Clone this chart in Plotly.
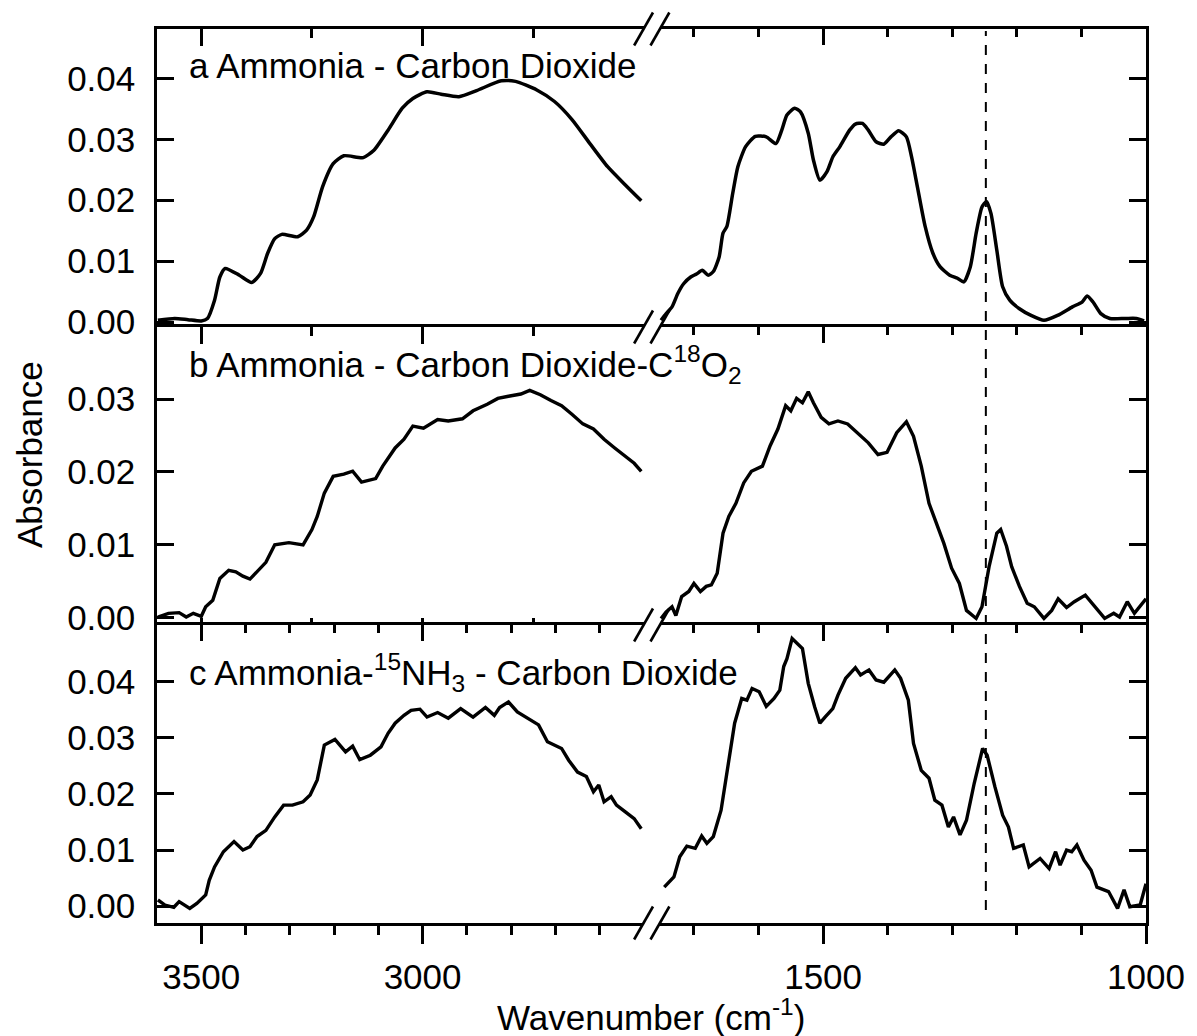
import plotly.graph_objects as go

# ---------------- data ----------------
a_left_wn = [3598, 3560, 3530, 3500, 3486, 3470, 3458, 3446, 3414, 3386, 3366, 3350, 3334, 3318, 3282,
             3262, 3246, 3226, 3202, 3178, 3134, 3110, 3078, 3046, 3022, 2990, 2958, 2918, 2878, 2822,
             2790, 2742, 2702, 2662, 2622, 2582, 2542, 2506]
a_left_abs = [0.0003, 0.0006, 0.0004, 0.0002, 0.0006, 0.0036, 0.0074, 0.0088, 0.0077, 0.0065, 0.0080,
              0.0113, 0.0137, 0.0144, 0.0140, 0.0151, 0.0173, 0.0222, 0.0260, 0.0273, 0.0270, 0.0282,
              0.0315, 0.0351, 0.0367, 0.0378, 0.0374, 0.0370, 0.0380, 0.0396, 0.0395, 0.0381, 0.0362,
              0.0332, 0.0293, 0.0255, 0.0225, 0.0199]

a_right_wn = [1751, 1743, 1734, 1725, 1716, 1705, 1696, 1687, 1678, 1670, 1661, 1655, 1649, 1640, 1632,
              1620, 1605, 1588, 1573, 1564, 1556, 1544, 1535, 1523, 1515, 1505, 1494, 1485, 1474, 1459,
              1450, 1439, 1430, 1418, 1406, 1395, 1383, 1371, 1363, 1354, 1342, 1330, 1319, 1304, 1292,
              1282, 1272, 1263, 1254, 1247, 1240, 1231, 1222, 1211, 1196, 1178, 1158, 1137, 1114, 1099,
              1091, 1082, 1070, 1056, 1032, 1015, 1003]
a_right_abs = [0.0003, 0.0014, 0.0025, 0.0047, 0.0063, 0.0074, 0.0079, 0.0085, 0.0077, 0.0083, 0.0107,
               0.0146, 0.0157, 0.0211, 0.0255, 0.0288, 0.0305, 0.0304, 0.0293, 0.0315, 0.0340, 0.0351,
               0.0345, 0.0310, 0.0266, 0.0233, 0.0247, 0.0271, 0.0288, 0.0315, 0.0325, 0.0326, 0.0315,
               0.0296, 0.0292, 0.0304, 0.0314, 0.0304, 0.0271, 0.0222, 0.0157, 0.0113, 0.0091, 0.0077,
               0.0072, 0.0066, 0.0091, 0.0146, 0.0189, 0.0198, 0.0178, 0.0118, 0.0058, 0.0036, 0.0022,
               0.0011, 0.0003, 0.0011, 0.0025, 0.0033, 0.0043, 0.0033, 0.0014, 0.0006, 0.0006, 0.0006,
               0.0002]

b_left_wn = [3598, 3574, 3550, 3534, 3518, 3500, 3490, 3474, 3458, 3438, 3422, 3406, 3390, 3374, 3354,
             3334, 3302, 3270, 3250, 3238, 3222, 3202, 3178, 3158, 3138, 3106, 3090, 3062, 3042, 3022,
             2998, 2966, 2942, 2910, 2886, 2854, 2830, 2806, 2778, 2758, 2734, 2710, 2686, 2662, 2638,
             2614, 2590, 2566, 2542, 2522, 2506]
b_left_abs = [0.0001, 0.0006, 0.0007, 0.0001, 0.0006, 0.0002, 0.0015, 0.0024, 0.0054, 0.0065, 0.0063,
              0.0057, 0.0053, 0.0063, 0.0076, 0.0100, 0.0103, 0.0100, 0.0121, 0.0139, 0.0171, 0.0194,
              0.0197, 0.0201, 0.0186, 0.0191, 0.0208, 0.0233, 0.0245, 0.0263, 0.0260, 0.0272, 0.0270,
              0.0273, 0.0284, 0.0293, 0.0301, 0.0304, 0.0307, 0.0312, 0.0306, 0.0298, 0.0291, 0.0279,
              0.0266, 0.0259, 0.0245, 0.0233, 0.0222, 0.0212, 0.0201]

b_right_wn = [1751, 1743, 1734, 1728, 1719, 1708, 1700, 1690, 1681, 1673, 1664, 1655, 1646, 1635, 1623,
              1611, 1594, 1582, 1570, 1558, 1550, 1541, 1532, 1523, 1515, 1503, 1491, 1477, 1462, 1447,
              1430, 1415, 1401, 1386, 1371, 1360, 1348, 1336, 1325, 1313, 1301, 1289, 1278, 1263, 1254,
              1243, 1231, 1225, 1216, 1208, 1196, 1184, 1173, 1158, 1146, 1136, 1123, 1111, 1094, 1079,
              1064, 1050, 1041, 1029, 1018, 1000]
b_right_abs = [-0.0001, 0.0008, 0.0015, 0.0003, 0.0029, 0.0036, 0.0047, 0.0036, 0.0043, 0.0045, 0.0061,
               0.0116, 0.0139, 0.0157, 0.0185, 0.0201, 0.0208, 0.0236, 0.0259, 0.0291, 0.0284, 0.0301,
               0.0295, 0.0310, 0.0295, 0.0275, 0.0266, 0.0270, 0.0266, 0.0254, 0.0240, 0.0224, 0.0227,
               0.0254, 0.0269, 0.0249, 0.0208, 0.0157, 0.0130, 0.0102, 0.0068, 0.0047, 0.0010, -0.0001,
               0.0015, 0.0070, 0.0116, 0.0121, 0.0098, 0.0070, 0.0043, 0.0020, 0.0015, -0.0001, 0.0010,
               0.0026, 0.0014, 0.0022, 0.0031, 0.0015, -0.0001, 0.0006, 0.0001, 0.0022, 0.0006, 0.0026]

c_left_wn = [3598, 3582, 3562, 3550, 3526, 3510, 3490, 3482, 3470, 3450, 3426, 3406, 3390, 3374, 3354,
             3334, 3314, 3294, 3270, 3254, 3238, 3222, 3198, 3174, 3158, 3142, 3118, 3094, 3078, 3062,
             3042, 3026, 3006, 2990, 2966, 2942, 2914, 2886, 2858, 2838, 2826, 2806, 2786, 2758, 2738,
             2718, 2686, 2670, 2650, 2630, 2614, 2602, 2590, 2574, 2562, 2542, 2522, 2506]
c_left_abs = [0.0011, 0.0002, -0.0002, 0.0008, -0.0004, 0.0005, 0.0020, 0.0046, 0.0070, 0.0097, 0.0115,
              0.0100, 0.0106, 0.0124, 0.0135, 0.0159, 0.0180, 0.0180, 0.0186, 0.0198, 0.0225, 0.0287,
              0.0297, 0.0275, 0.0285, 0.0261, 0.0269, 0.0284, 0.0308, 0.0326, 0.0340, 0.0349, 0.0351,
              0.0337, 0.0345, 0.0335, 0.0352, 0.0337, 0.0354, 0.0340, 0.0354, 0.0364, 0.0346, 0.0332,
              0.0323, 0.0293, 0.0281, 0.0260, 0.0239, 0.0231, 0.0204, 0.0216, 0.0186, 0.0195, 0.0180,
              0.0168, 0.0156, 0.0138]

c_right_wn = [1746, 1731, 1722, 1711, 1698, 1688, 1680, 1670, 1658, 1646, 1637, 1626, 1618, 1610, 1599,
              1588, 1576, 1567, 1561, 1556, 1548, 1532, 1523, 1513, 1505, 1497, 1485, 1477, 1465, 1450,
              1442, 1429, 1418, 1406, 1389, 1380, 1368, 1360, 1348, 1336, 1327, 1316, 1306, 1298, 1288,
              1278, 1266, 1253, 1246, 1234, 1222, 1213, 1205, 1190, 1181, 1164, 1150, 1140, 1133, 1123,
              1115, 1107, 1096, 1085, 1076, 1058, 1044, 1034, 1025, 1009, 1000]
c_right_abs = [0.0034, 0.0052, 0.0088, 0.0107, 0.0103, 0.0125, 0.0112, 0.0124, 0.0171, 0.0260, 0.0326,
               0.0370, 0.0367, 0.0388, 0.0382, 0.0356, 0.0370, 0.0385, 0.0427, 0.0441, 0.0477, 0.0459,
               0.0397, 0.0355, 0.0326, 0.0337, 0.0352, 0.0376, 0.0406, 0.0425, 0.0412, 0.0421, 0.0403,
               0.0399, 0.0421, 0.0406, 0.0367, 0.0290, 0.0242, 0.0228, 0.0189, 0.0180, 0.0141, 0.0159,
               0.0127, 0.0153, 0.0219, 0.0281, 0.0269, 0.0213, 0.0162, 0.0141, 0.0103, 0.0109, 0.0070,
               0.0085, 0.0067, 0.0097, 0.0073, 0.0100, 0.0097, 0.0109, 0.0082, 0.0064, 0.0034, 0.0026,
               -0.0004, 0.0029, -0.0001, 0.0002, 0.0040]

panel_labels = ["a Ammonia - Carbon Dioxide",
                "b Ammonia - Carbon Dioxide-C<sup>18</sup>O<sub>2</sub>",
                "c Ammonia-<sup>15</sup>NH<sub>3</sub> - Carbon Dioxide"]
y_ranges = [[-0.0008, 0.0481], [-0.0010, 0.0399], [-0.0030, 0.0501]]
y_ticks = [[0.00, 0.01, 0.02, 0.03, 0.04], [0.00, 0.01, 0.02, 0.03], [0.00, 0.01, 0.02, 0.03, 0.04]]
x_left_range = [3600, 2484]
x_right_range = [1766.5, 1000]
left_major = [3500, 3000]
left_minor_250 = [3250, 2750]
left_minor_100 = [3400, 3300, 3200, 3100, 2900, 2800, 2700, 2600]
right_major = [1500, 1000]
right_minor_100 = [1700, 1600, 1400, 1300, 1200, 1100]
marker_line_wn = 1248

# ---------------- layout geometry ----------------
W, H = 1197, 1036
L, R, T, B = 157, 43, 29, 113
PW, PH = W - L - R, H - T - B
BREAK_PX = 655


def px_x(px):
    return (px - L) / PW


def px_y(py):
    return (H - B - py) / PH


xb = px_x(BREAK_PX)
FONT = "Liberation Sans, Arial, sans-serif"
BLACK = "#000000"
LW = 2.5
FS = 35

fig = go.Figure()

series = [(a_left_wn, a_left_abs, a_right_wn, a_right_abs, "spline"),
          (b_left_wn, b_left_abs, b_right_wn, b_right_abs, "linear"),
          (c_left_wn, c_left_abs, c_right_wn, c_right_abs, "linear")]

doms = [[2 / 3, 1.0], [1 / 3, 2 / 3], [0.0, 1 / 3]]

layout = dict(width=W, height=H, margin=dict(l=L, r=R, t=T, b=B),
              paper_bgcolor="white", plot_bgcolor="white", showlegend=False,
              font=dict(family=FONT, size=FS, color=BLACK))

for i, (lw_, la_, rw_, ra_, shp) in enumerate(series):
    xl = "x" if i == 0 else f"x{2 * i + 1}"
    xr = f"x{2 * i + 2}"
    yl = "y" if i == 0 else f"y{2 * i + 1}"
    yr = f"y{2 * i + 2}"
    kxl = "xaxis" if i == 0 else f"xaxis{2 * i + 1}"
    kxr = f"xaxis{2 * i + 2}"
    kyl = "yaxis" if i == 0 else f"yaxis{2 * i + 1}"
    kyr = f"yaxis{2 * i + 2}"
    line = dict(color=BLACK, width=3.5, shape=shp, smoothing=0.6) if shp == "spline" else dict(color=BLACK, width=3.4)
    fig.add_trace(go.Scatter(x=lw_, y=la_, mode="lines", line=line, xaxis=xl, yaxis=yl, hoverinfo="skip"))
    fig.add_trace(go.Scatter(x=rw_, y=ra_, mode="lines", line=line, xaxis=xr, yaxis=yr, hoverinfo="skip"))

    common_y = dict(domain=doms[i], range=y_ranges[i], tickvals=y_ticks[i], ticks="inside", ticklen=17,
                    tickwidth=LW, tickcolor=BLACK, showline=True, linecolor=BLACK, linewidth=LW,
                    showgrid=False, zeroline=False, fixedrange=True)
    layout[kyl] = dict(common_y, anchor=xl, side="left", tickmode="array",
                       ticktext=[f"{v:.2f}" for v in y_ticks[i]],
                       tickfont=dict(size=FS, family=FONT, color=BLACK), ticklabelstandoff=12)
    layout[kyr] = dict(common_y, anchor=xr, side="right", showticklabels=False)

    common_x = dict(showline=True, linecolor=BLACK, linewidth=LW, showgrid=False,
                    zeroline=False, tickwidth=LW, tickcolor=BLACK, fixedrange=True)
    if i < 2:
        # top line with downward ticks; the bottom edge is drawn by the next panel's top line
        layout[kxl] = dict(common_x, mirror=False, domain=[0, xb], range=x_left_range, anchor=yl,
                           side="top", ticks="inside", tickmode="array", tickvals=left_major,
                           ticklen=17, showticklabels=False,
                           minor=dict(tickmode="array", tickvals=left_minor_250, ticks="inside",
                                      ticklen=9, tickwidth=LW, tickcolor=BLACK))
        layout[kxr] = dict(common_x, mirror=False, domain=[xb, 1], range=x_right_range, anchor=yr,
                           side="top", ticks="inside", tickmode="array", tickvals=[1500], ticklen=16,
                           showticklabels=False,
                           minor=dict(tickmode="array", tickvals=right_minor_100, ticks="inside",
                                      ticklen=8, tickwidth=LW, tickcolor=BLACK))
    else:
        layout[kxl] = dict(common_x, mirror=True, domain=[0, xb], range=x_left_range, anchor=yl,
                           side="bottom", ticks="outside", tickmode="array", tickvals=left_major,
                           ticktext=[str(v) for v in left_major], ticklen=18, ticklabelstandoff=3,
                           tickfont=dict(size=FS, family=FONT, color=BLACK),
                           minor=dict(tickmode="array", tickvals=left_minor_100, ticks="outside",
                                      ticklen=9, tickwidth=LW, tickcolor=BLACK))
        layout[kxr] = dict(common_x, mirror=True, domain=[xb, 1], range=x_right_range, anchor=yr,
                           side="bottom", ticks="outside", tickmode="array", tickvals=right_major,
                           ticktext=[str(v) for v in right_major], ticklen=18, ticklabelstandoff=3,
                           tickfont=dict(size=FS, family=FONT, color=BLACK),
                           minor=dict(tickmode="array", tickvals=right_minor_100, ticks="outside",
                                      ticklen=9, tickwidth=LW, tickcolor=BLACK))

# overlay tick-only axes
overlay_common = dict(showline=False, showgrid=False, zeroline=False, showticklabels=False,
                      tickwidth=LW, tickcolor=BLACK, fixedrange=True, tickmode="array")
# panel b bottom, upward short ticks (left segment)
layout["xaxis7"] = dict(overlay_common, overlaying="x3", anchor="y3", side="bottom", domain=[0, xb],
                        range=x_left_range, ticks="inside", ticklen=7,
                        tickvals=left_major + left_minor_250)
# panel c top, downward ticks (left segment)
layout["xaxis8"] = dict(overlay_common, overlaying="x5", anchor="y5", side="top", domain=[0, xb],
                        range=x_left_range, ticks="inside", ticklen=16, tickvals=left_major,
                        minor=dict(tickmode="array", tickvals=left_minor_100, ticks="inside",
                                   ticklen=8, tickwidth=LW, tickcolor=BLACK))
# panel c top, downward ticks (right segment)
layout["xaxis9"] = dict(overlay_common, overlaying="x6", anchor="y6", side="top", domain=[xb, 1],
                        range=x_right_range, ticks="inside", ticklen=16, tickvals=[1500],
                        minor=dict(tickmode="array", tickvals=right_minor_100, ticks="inside",
                                   ticklen=8, tickwidth=LW, tickcolor=BLACK))
for xa, ya in [("x7", "y3"), ("x8", "y5"), ("x9", "y6")]:
    fig.add_trace(go.Scatter(x=[None], y=[None], xaxis=xa, yaxis=ya, mode="lines", hoverinfo="skip"))

shapes = []
# dashed marker line
shapes.append(dict(type="line", xref="x2", yref="paper", x0=marker_line_wn, x1=marker_line_wn,
                   y0=px_y(910), y1=px_y(T + 2), line=dict(color=BLACK, width=2, dash="10px,9px")))
# axis-break marks
c1, c2, hw, hh = 647.5, 664.0, 9.5, 16.5
for ly in [T, T + PH / 3, T + 2 * PH / 3, T + PH]:
    g = 4.5
    k = hw / hh
    pts = [(c1 - g * k, ly + g), (c2 - g * k, ly + g), (c2 + g * k, ly - g), (c1 + g * k, ly - g)]
    path = "M " + " L ".join(f"{px_x(px):.5f},{px_y(py):.5f}" for px, py in pts) + " Z"
    shapes.append(dict(type="path", xref="paper", yref="paper", path=path,
                       fillcolor="white", line=dict(width=0)))
    for cx in (c1, c2):
        shapes.append(dict(type="line", xref="paper", yref="paper",
                           x0=px_x(cx - hw), y0=px_y(ly + hh), x1=px_x(cx + hw), y1=px_y(ly - hh),
                           line=dict(color=BLACK, width=2.6)))
layout["shapes"] = shapes

annotations = []
label_y = [65, 364, 672]
for txt, yy in zip(panel_labels, label_y):
    annotations.append(dict(text=txt, xref="paper", yref="paper", x=px_x(187), y=px_y(yy),
                            xanchor="left", yanchor="middle", showarrow=False,
                            font=dict(size=FS, family=FONT, color=BLACK)))
annotations.append(dict(text="Absorbance", xref="paper", yref="paper", x=px_x(28), y=px_y(455),
                        xanchor="center", yanchor="middle", textangle=-90, showarrow=False,
                        font=dict(size=FS, family=FONT, color=BLACK)))
annotations.append(dict(text="Wavenumber (cm<sup>-1</sup>)", xref="paper", yref="paper",
                        x=px_x(655), y=px_y(1015), xanchor="center", yanchor="middle", showarrow=False,
                        font=dict(size=FS, family=FONT, color=BLACK)))
layout["annotations"] = annotations

fig.update_layout(**layout)
fig.write_html("out.html")
